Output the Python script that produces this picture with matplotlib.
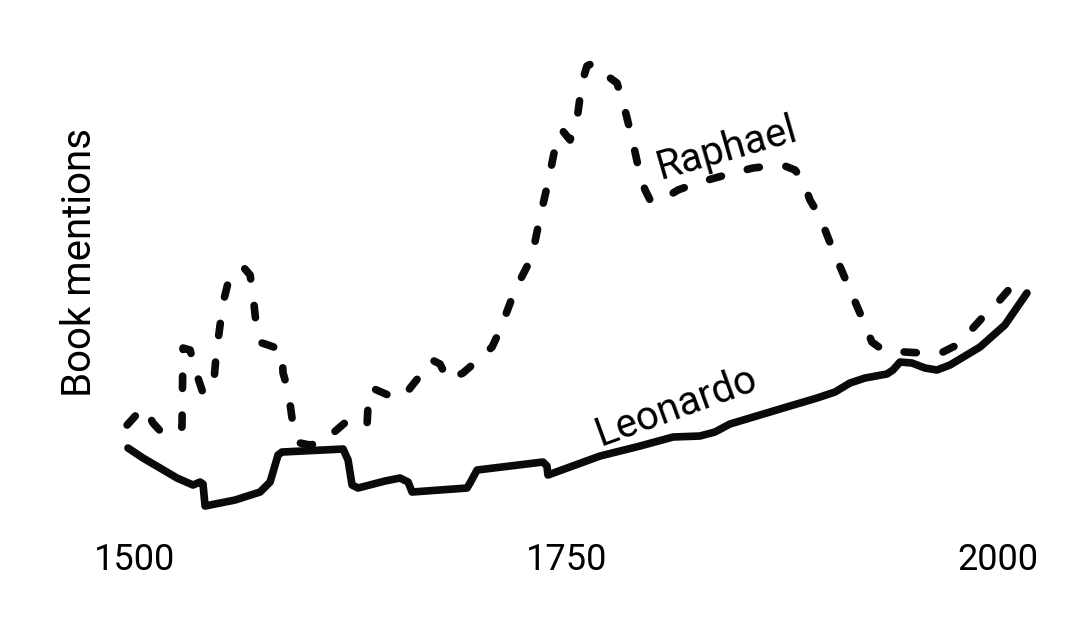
import matplotlib
matplotlib.use("Agg")
import matplotlib.pyplot as plt

plt.rcParams['font.family'] = ['Roboto', 'DejaVu Sans']

# Leonardo: book mentions per year (arbitrary units)
leonardo_years = [1495.9, 1504.6, 1514.5, 1524.3, 1533.6, 1537.7, 1539.4, 1540.6, 1558.0,
                  1572.5, 1578.3, 1582.9, 1585.2, 1620.6, 1623.5, 1625.8, 1629.3,
                  1644.9, 1653.6, 1658.3, 1660.6, 1692.5, 1694.2, 1698.3, 1717.4,
                  1736.5, 1738.8, 1739.4, 1769.6, 1792.8, 1811.9, 1827.5, 1836.2,
                  1844.9, 1873.9, 1895.4, 1905.8, 1914.5, 1923.2, 1935.9, 1939.4,
                  1943.5, 1950.4, 1958.0, 1964.9, 1972.5, 1989.9, 2004.3, 2017.1]
leonardo_mentions = [72, 62, 52, 42, 35, 38, 36, 14, 20,
                     28, 38, 65, 68, 71, 60, 35, 32,
                     39, 42, 38, 28, 32, 37, 50, 54,
                     58, 54, 45, 64, 74, 83, 84, 88,
                     96, 111, 122, 128, 137, 142, 146, 150,
                     158, 157, 152, 150, 155, 173, 195, 227]

# Raphael
raphael_years = [1495.4, 1501.7, 1505.8, 1510.4, 1515.7, 1521.4, 1527.2, 1527.8,
                 1531.9, 1535.9, 1539.4, 1543.5, 1545.8, 1547.0, 1549.3, 1551.0,
                 1553.9, 1558.6, 1563.2, 1566.7, 1568.4, 1570.7, 1573.6, 1577.1,
                 1585.2, 1585.8, 1588.7, 1591.6, 1595.7, 1601.4, 1607.2, 1614.8,
                 1622.9, 1627.5, 1634.5, 1635.1, 1637.4, 1646.7, 1653.6, 1657.7,
                 1664.1, 1672.2, 1676.8, 1681.4, 1690.1, 1698.8, 1707.0, 1711.6,
                 1720.3, 1730.1, 1734.8, 1739.4, 1743.5, 1747.5, 1752.2, 1756.2,
                 1759.1, 1762.0, 1765.5, 1770.7, 1779.4, 1782.9, 1788.1, 1792.8,
                 1795.7, 1798.6, 1803.2, 1814.8, 1825.8, 1836.2, 1846.7, 1858.3,
                 1868.1, 1876.8, 1882.6, 1887.2, 1891.3, 1897.1, 1904.6, 1913.3,
                 1922.0, 1927.2, 1933.6, 1946.4, 1956.2, 1968.4, 1976.5, 1985.8,
                 1991.6, 2001.4, 2008.4]
raphael_mentions = [95, 107, 112, 97, 87, 85, 93, 172,
                    170, 145, 127, 130, 140, 165, 195, 217,
                    237, 250, 252, 245, 225, 187, 177, 175,
                    170, 147, 130, 95, 77, 75, 77, 87,
                    99, 96, 95, 115, 132, 125, 122, 128,
                    142, 160, 156, 140, 147, 160, 173, 190,
                    230, 263, 303, 337, 372, 390, 380, 400,
                    437, 454, 457, 448, 437, 418, 382, 345,
                    330, 320, 318, 330, 337, 342, 347, 352,
                    354, 354, 350, 340, 320, 303, 270, 235,
                    200, 178, 170, 168, 167, 168, 175, 192,
                    203, 220, 234]

tick_years = [1500, 1750, 2000]

fig = plt.figure(figsize=(10.88, 6.42), dpi=100)
ax = fig.add_axes([0, 0.19, 1, 0.7477])

ax.plot(leonardo_years, leonardo_mentions, color="#0a0a0a", lw=5.5,
        solid_joinstyle="round", solid_capstyle="round")
ax.plot(raphael_years, raphael_mentions, color="#0a0a0a", lw=5.5,
        linestyle=(0, (1.6, 3.5)), dash_capstyle="round", dash_joinstyle="round")

ax.set_xlim(1421.7, 2052.5)
ax.set_ylim(0, 480)
ax.set_xticks(tick_years)
ax.set_xticklabels([str(y) for y in tick_years], fontsize=26)
ax.tick_params(axis="x", length=0, pad=16)
ax.set_yticks([])
for s in ax.spines.values():
    s.set_visible(False)

ax.text(0.0735, 0.5375, "Book mentions", transform=ax.transAxes, rotation=90,
        ha="center", va="center", fontsize=29)
ax.text(1843.2, 372, "Raphael", rotation=16, rotation_mode="anchor",
        ha="center", va="center", fontsize=29)
ax.text(1813.6, 114, "Leonardo", rotation=20, rotation_mode="anchor",
        ha="center", va="center", fontsize=29)

fig.savefig("out.png", dpi=100)
